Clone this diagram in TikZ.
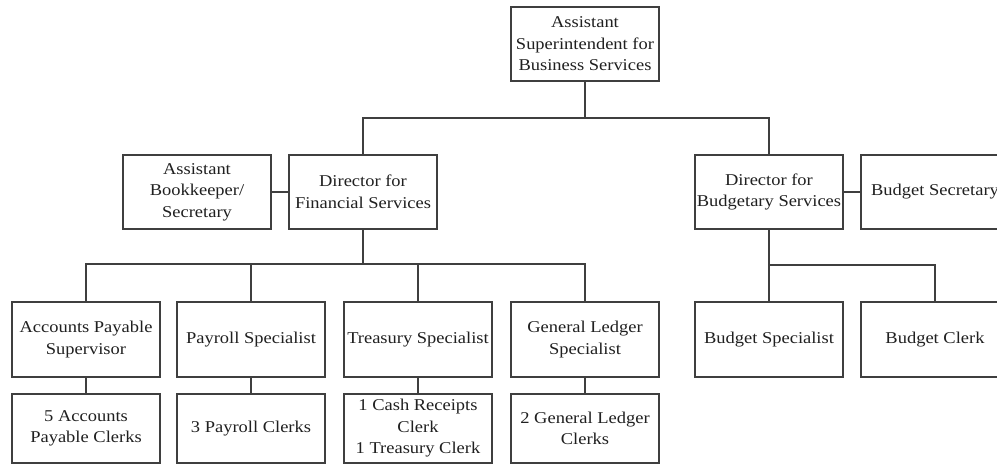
\documentclass[tikz,border=0pt]{standalone}
\usepackage{fontspec}
\setmainfont{Liberation Serif}[FakeStretch=1.12]
\definecolor{linegray}{HTML}{3F3F3F}
\definecolor{textgray}{HTML}{202020}
\begin{document}
\begin{tikzpicture}[x=1pt, y=-1pt,
  box/.style={draw=linegray, line width=1.8pt, fill=white, inner sep=0pt,
    minimum width=148pt, minimum height=74pt, align=center,
    text=textgray, font=\fontsize{16.5}{21.5}\selectfont},
  tallbox/.style={box, minimum height=75pt},
  lowbox/.style={box, minimum height=69pt},
  link/.style={draw=linegray, line width=1.8pt}]
\useasboundingbox[fill=white] (0,0) rectangle (997,467);

% level 1
\node[box] (top) at (585,44) {Assistant\\Superintendent for\\Business Services};

% level 2
\node[box] (bk)   at (197,192) {Assistant\\Bookkeeper/\\Secretary};
\node[box] (dfs)  at (363,192) {Director for\\Financial Services};
\node[box] (dbs)  at (769,192) {Director for\\Budgetary Services};
\node[box] (bsec) at (935,192) {Budget Secretary};

% level 3
\node[tallbox] (ap)     at (86,339.5)  {Accounts Payable\\Supervisor};
\node[tallbox] (pay)    at (251,339.5) {Payroll Specialist};
\node[tallbox] (tre)    at (418,339.5) {Treasury Specialist};
\node[tallbox] (gl)     at (585,339.5) {General Ledger\\Specialist};
\node[tallbox] (bspec)  at (769,339.5) {Budget Specialist};
\node[tallbox] (bclerk) at (935,339.5) {Budget Clerk};

% level 4
\node[lowbox] (apc)  at (86,428.5)  {5 Accounts\\Payable Clerks};
\node[lowbox] (payc) at (251,428.5) {3 Payroll Clerks};
\node[lowbox] (trec) at (418,428.5) {1 Cash Receipts\\Clerk\\1 Treasury Clerk};
\node[lowbox] (glc)  at (585,428.5) {2 General Ledger\\Clerks};

% bus levels
\coordinate (busA) at (585,118);
\coordinate (busB) at (363,264);
\coordinate (busC) at (769,265);

% connectors
\draw[link] (top.south) -- (busA);
\draw[link] (dfs.north) |- (busA) -| (dbs.north);
\draw[link] (bk.east) -- (dfs.west);
\draw[link] (dbs.east) -- (bsec.west);

\draw[link] (dfs.south) -- (busB);
\draw[link] (ap.north) |- (busB) -| (gl.north);
\draw[link] (pay.north) -- (pay.north |- busB);
\draw[link] (tre.north) -- (tre.north |- busB);

\draw[link] (dbs.south) -- (busC);
\draw[link] (bspec.north) |- (busC) -| (bclerk.north);

\draw[link] (ap.south) -- (apc.north);
\draw[link] (pay.south) -- (payc.north);
\draw[link] (tre.south) -- (trec.north);
\draw[link] (gl.south) -- (glc.north);
\end{tikzpicture}
\end{document}
